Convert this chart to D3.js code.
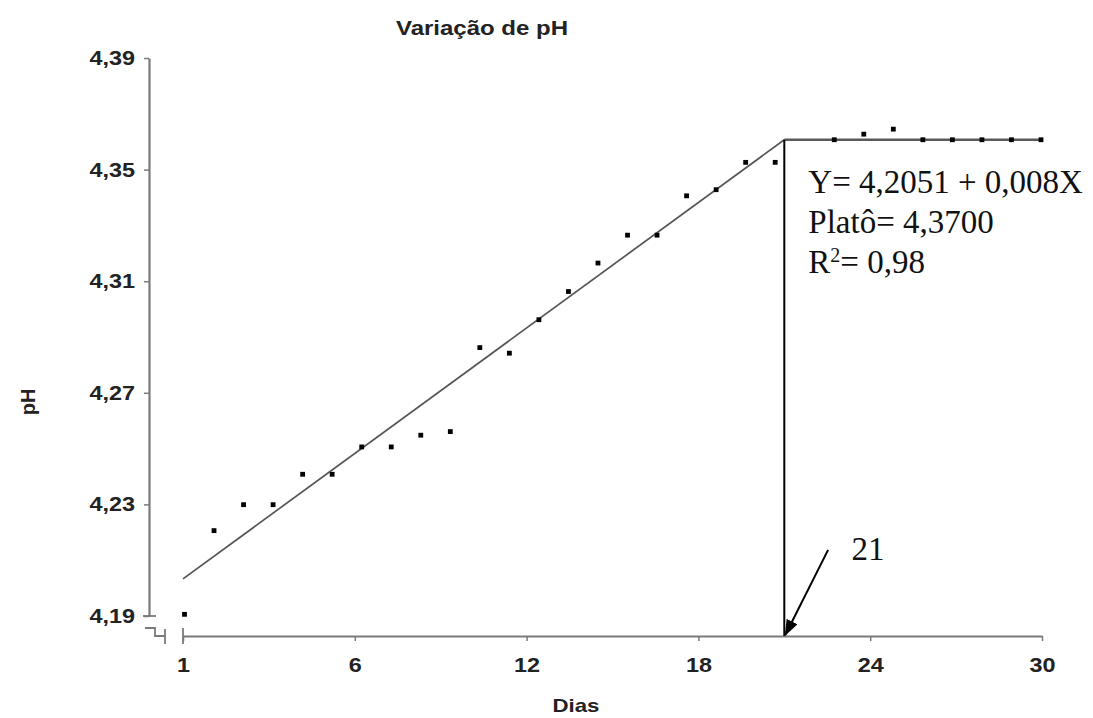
<!DOCTYPE html>
<html>
<head>
<meta charset="utf-8">
<script src="https://cdn.jsdelivr.net/npm/d3@7"></script>
<style>
  body { margin: 0; background: #fff; }
  .sans { font-family: "Liberation Sans", Arial, sans-serif; font-weight: bold; fill: #222; }
  .serif { font-family: "Liberation Serif", "Times New Roman", serif; fill: #111; }
</style>
</head>
<body>
<div id="app"></div>
<script>
// observed pH per day (day 22 has no point in the figure)
const days = [1, 2, 3, 4, 5, 6, 7, 8, 9, 10, 11, 12, 13, 14, 15, 16, 17, 18, 19, 20, 21,
              23, 24, 25, 26, 27, 28, 29, 30];
const ph = [4.1906, 4.2206, 4.2299, 4.2299, 4.2408, 4.2408, 4.2506, 4.2506, 4.2548, 4.2561,
            4.2862, 4.2842, 4.2962, 4.3063, 4.3165, 4.3265, 4.3265, 4.3406, 4.3428, 4.3526, 4.3526,
            4.3607, 4.3627, 4.3645, 4.3607, 4.3607, 4.3607, 4.3607, 4.3607];

// linear-plateau fit as drawn
const fitX = [0, 21, 30];
const fitY = [4.2033, 4.3607, 4.3607];
const breakDay = 21;

const xTicks = [0, 6, 12, 18, 24, 30];
const xTickLabels = ["1", "6", "12", "18", "24", "30"];
const yTicks = [4.19, 4.23, 4.27, 4.31, 4.35, 4.39];
const yTickLabels = ["4,19", "4,23", "4,27", "4,31", "4,35", "4,39"];

const eqLines = ["Y= 4,2051 + 0,008X", "Platô= 4,3700"];

const W = 1093, H = 718;
const svg = d3.select("#app").append("svg")
    .attr("width", W)
    .attr("height", H);

// scales
const x = d3.scaleLinear().domain([0, 30]).range([183, 1042]);
const xObs = d3.scaleLinear().domain([1, 30]).range([184.5, 1041]);
const y = d3.scaleLinear().domain([4.19, 4.39]).range([616, 58]);
const axisY = y(4.19) + 20; // x axis sits below the broken y axis
const yAxisX = 149;

// text in the figure is a bit wide, stretch it
function stretch(sel, k) {
    sel.each(function () {
        const w = this.getComputedTextLength();
        d3.select(this).attr("textLength", w * k).attr("lengthAdjust", "spacingAndGlyphs");
    });
}

const axisColor = "#7a7a7a";

// y axis
const gy = svg.append("g")
    .attr("transform", `translate(${yAxisX},0)`)
    .call(d3.axisLeft(y).tickValues(yTicks).tickSize(5).tickSizeOuter(0).tickPadding(9)
        .tickFormat((d, i) => yTickLabels[i]));
gy.select(".domain").attr("stroke", axisColor).attr("stroke-width", 2.2);
gy.selectAll(".tick line").attr("stroke", axisColor).attr("stroke-width", 1.5);
gy.selectAll(".tick text").attr("class", "sans").style("font-size", "20px").attr("fill", "#222");
stretch(gy.selectAll(".tick text"), 1.17);

// x axis
const gx = svg.append("g")
    .attr("transform", `translate(0,${axisY})`)
    .call(d3.axisBottom(x).tickValues(xTicks).tickSize(5).tickSizeOuter(0).tickPadding(17)
        .tickFormat((d, i) => xTickLabels[i]));
gx.select(".domain").attr("stroke", axisColor).attr("stroke-width", 2.2);
gx.selectAll(".tick line").attr("stroke", axisColor).attr("stroke-width", 1.5);
gx.selectAll(".tick text").attr("class", "sans").style("font-size", "20px").attr("fill", "#222");
stretch(gx.selectAll(".tick text"), 1.17);

// axis break marks
const y0 = y(4.19);
const brk = svg.append("g").attr("fill", "none").attr("stroke", axisColor).attr("stroke-width", 1.8);
brk.append("path").attr("d", `M${yAxisX - 6},${y0} H${yAxisX + 7}`);
brk.append("path").attr("d", `M${yAxisX - 4},${y0 + 12} H${yAxisX + 6} V${axisY} H${yAxisX + 16}`);
brk.append("path").attr("d", `M${yAxisX + 16},${axisY - 7} V${axisY + 8}`);
brk.append("path").attr("d", `M${x(0)},${axisY - 8} V${axisY + 8}`);

// fitted line
svg.append("path")
    .attr("d", d3.line()([[x(fitX[0]), y(fitY[0])], [x(fitX[1]), y(fitY[1])]]))
    .attr("fill", "none").attr("stroke", "#555").attr("stroke-width", 1.7);
svg.append("path")
    .attr("d", d3.line()([[x(fitX[1]), y(fitY[1])], [x(fitX[2]), y(fitY[2])]]))
    .attr("fill", "none").attr("stroke", "#5a5a5a").attr("stroke-width", 2.6);

// vertical line at the break point
svg.append("line")
    .attr("x1", x(breakDay)).attr("x2", x(breakDay))
    .attr("y1", y(fitY[1])).attr("y2", axisY)
    .attr("stroke", "#000").attr("stroke-width", 2);

// points
svg.append("g").selectAll("rect")
    .data(days)
    .join("rect")
    .attr("x", (d) => xObs(d) - 2.4)
    .attr("y", (d, i) => y(ph[i]) - 2.4)
    .attr("width", 4.8)
    .attr("height", 4.8)
    .attr("fill", "#000");

// arrow pointing to day 21
svg.append("defs").append("marker")
    .attr("id", "head")
    .attr("markerUnits", "userSpaceOnUse")
    .attr("markerWidth", 16).attr("markerHeight", 12)
    .attr("refX", 15).attr("refY", 6)
    .attr("orient", "auto")
    .append("path").attr("d", "M0,0 L16,6 L0,12 z").attr("fill", "#000");
svg.append("line")
    .attr("x1", x(22.53)).attr("y1", y(4.2137))
    .attr("x2", x(breakDay) + 1).attr("y2", axisY - 1)
    .attr("stroke", "#000").attr("stroke-width", 2)
    .attr("marker-end", "url(#head)");
svg.append("text")
    .attr("class", "serif")
    .attr("x", x(23.35)).attr("y", y(4.2101))
    .style("font-size", "33px")
    .text(String(breakDay));

// equation block
const eq = svg.append("g").attr("class", "serif").style("font-size", "33px");
eqLines.forEach((t, i) => {
    eq.append("text").attr("x", x(breakDay) + 24).attr("y", y(fitY[1]) + 53 + i * 40).text(t);
});
const r2 = eq.append("text").attr("x", x(breakDay) + 24).attr("y", y(fitY[1]) + 133);
r2.append("tspan").text("R");
r2.append("tspan").attr("dy", -11).style("font-size", "20px").text("2");
r2.append("tspan").attr("dy", 11).text("= 0,98");

// titles
const title = svg.append("text").attr("class", "sans")
    .attr("x", 482).attr("y", 35)
    .attr("text-anchor", "middle").style("font-size", "20px")
    .text("Variação de pH");
stretch(title, 1.2);

const xLab = svg.append("text").attr("class", "sans")
    .attr("x", 576).attr("y", 712)
    .attr("text-anchor", "middle").style("font-size", "19px")
    .text("Dias");
stretch(xLab, 1.17);

svg.append("text").attr("class", "sans")
    .attr("transform", "translate(35,402) rotate(-90)")
    .attr("text-anchor", "middle").style("font-size", "20px")
    .text("pH");
</script>
</body>
</html>
